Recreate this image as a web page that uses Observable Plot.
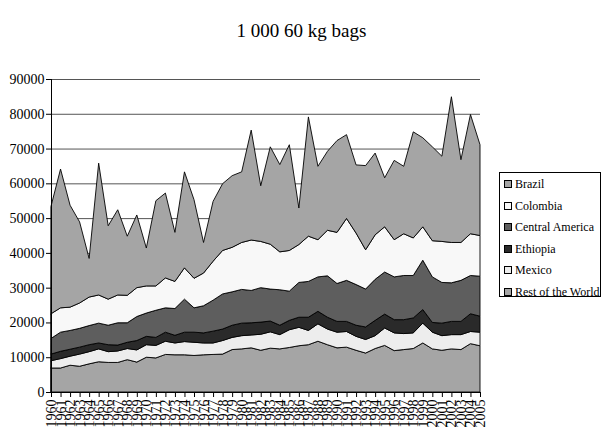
<!DOCTYPE html>
<html>
<head>
<meta charset="utf-8">
<script src="https://cdn.jsdelivr.net/npm/d3@7"></script>
<script src="https://cdn.jsdelivr.net/npm/@observablehq/plot@0.6"></script>
<style>
  html, body { margin: 0; padding: 0; background: #fff; }
  #wrap { position: relative; width: 603px; height: 428px; overflow: hidden; font-family: "Liberation Serif", "Times New Roman", serif; }
  #title { position: absolute; left: 0; top: 20px; width: 603px; text-align: center; font-size: 19px; color: #000; }
  #chart { position: absolute; left: 0; top: 0; }
  svg text { font-family: "Liberation Serif", "Times New Roman", serif !important; }
  #legend { position: absolute; left: 499px; top: 172px; width: 102px; height: 125px; border: 1px solid #000; background: #fff; box-sizing: border-box; }
  .item { position: absolute; left: 4px; height: 14px; font-size: 12px; line-height: 14px; white-space: nowrap; }
  .sw { display: inline-block; width: 6px; height: 6px; border: 1px solid #000; margin-right: 3px; vertical-align: 0px; }
</style>
</head>
<body>
<div id="wrap">
  <div id="chart"></div>
  <div id="title">1 000 60 kg bags</div>
  <div id="legend"></div>
</div>
<script>
const years = d3.range(1960, 2006);
const seriesNames = ["Brazil", "Colombia", "Central America", "Ethiopia", "Mexico", "Rest of the World"];
const seriesColors = ["#a5a5a5", "#f8f8f8", "#5e5e5e", "#2a2a2a", "#ededed", "#a5a5a5"];

const brazil = [30900,39900,29300,23300,11100,37900,21100,24500,17000,20900,
  10900,24500,24400,14100,27600,22600,8800,17200,19200,20600,
  20300,31600,16000,28000,25100,30400,10500,34300,21100,22700,
  26400,24100,19600,24200,23500,14100,22800,19400,30500,25600,
  27000,24500,41900,23800,34300,26100];
const colombia = [7100,7000,6700,7300,8200,8100,7500,8000,7900,8300,
  7800,7000,8600,7800,9000,8500,9400,11200,12500,12800,
  13500,14500,13300,12900,10900,11700,10900,13000,10700,13100,
  14700,17800,14800,11300,12800,13000,10700,12000,10800,9600,
  10400,11800,11600,10900,12000,11700];
const centralAmerica = [4500,5500,5400,5400,5500,5700,5600,6400,5600,6900,
  6700,7800,7000,7700,9500,7000,7800,8900,10100,9600,
  9700,9300,9900,9200,10200,8400,10000,10300,9900,11900,
  10900,11800,11700,10900,11800,12100,12300,12700,12200,14200,
  13100,11700,11100,11800,11000,11500];
const ethiopia = [1900,2100,2000,2000,2000,1700,2000,1700,1800,2700,
  2400,2300,2600,2200,2700,2900,2900,3400,3300,3500,
  3600,3500,3500,3100,2700,2700,2900,3800,3600,3400,
  3100,2900,3200,3600,4400,4000,3800,4000,4300,3900,
  2800,3600,3800,3800,5100,4600];
const mexico = [2100,2700,2600,3500,3500,3700,3100,3300,3200,3500,
  3600,3600,3800,3400,3800,3800,3400,3300,3900,3500,
  3800,3700,4600,4700,4100,5100,5300,4100,5000,4500,
  4500,4500,4000,3900,3700,5000,5100,4600,4500,5700,
  4800,4200,4100,4300,3500,3900];
const restOfWorld = [6900,6900,7700,7400,8100,8700,8500,8500,9300,8600,
  10000,9800,10800,10700,10700,10500,10700,10800,10900,12200,
  12400,12700,12000,12600,12400,12800,13300,13600,14600,13600,
  12700,12900,12000,11200,12500,13400,11900,12200,12500,14100,
  12400,12000,12400,12200,13900,13300];
const yTicks = d3.range(0, 90001, 10000);

const valuesBySeries = {
  "Brazil": brazil,
  "Colombia": colombia,
  "Central America": centralAmerica,
  "Ethiopia": ethiopia,
  "Mexico": mexico,
  "Rest of the World": restOfWorld
};
const stackOrder = seriesNames.slice().reverse(); // bottom to top
const data = stackOrder.flatMap(s => years.map((yr, i) => ({year: yr, series: s, value: valuesBySeries[s][i]})));

const serif = "Times New Roman, serif";
const chart = Plot.plot({
  width: 603,
  height: 428,
  marginLeft: 51,
  marginRight: 123,
  marginTop: 79,
  marginBottom: 36,
  style: {fontFamily: serif, fontSize: "14px", background: "transparent", color: "#000"},
  x: {domain: [1960, 2005], label: null},
  y: {domain: [0, 90000], label: null},
  color: {domain: seriesNames, range: seriesColors},
  marks: [
    Plot.ruleY(yTicks.filter(d => d > 0), {stroke: "#555", strokeWidth: 1}),
    Plot.areaY(data, Plot.stackY({x: "year", y: "value", z: "series", fill: "series", order: stackOrder, stroke: "#000", strokeWidth: 0.9, strokeLinejoin: "round"})),
    Plot.ruleY([0], {stroke: "#000", strokeWidth: 1}),
    Plot.ruleX([1960], {stroke: "#000", strokeWidth: 1}),
    Plot.axisY({ticks: yTicks, tickFormat: d3.format("d"), tickSize: 5, tickPadding: 2, fontSize: 14, fontFamily: serif, stroke: "#000"}),
    Plot.axisX({ticks: years, tickFormat: d3.format("d"), tickSize: 5, tickPadding: 2, tickRotate: -90, fontSize: 14, fontFamily: serif, stroke: "#000"})
  ]
});
chart.setAttribute("font-family", serif);
document.getElementById("chart").appendChild(chart);

const legend = document.getElementById("legend");
seriesNames.forEach((s, i) => {
  const item = document.createElement("div");
  item.className = "item";
  item.style.top = (4 + i * 21.5) + "px";
  const sw = document.createElement("span");
  sw.className = "sw";
  sw.style.background = seriesColors[i];
  item.appendChild(sw);
  item.appendChild(document.createTextNode(s));
  legend.appendChild(item);
});
</script>
</body>
</html>
